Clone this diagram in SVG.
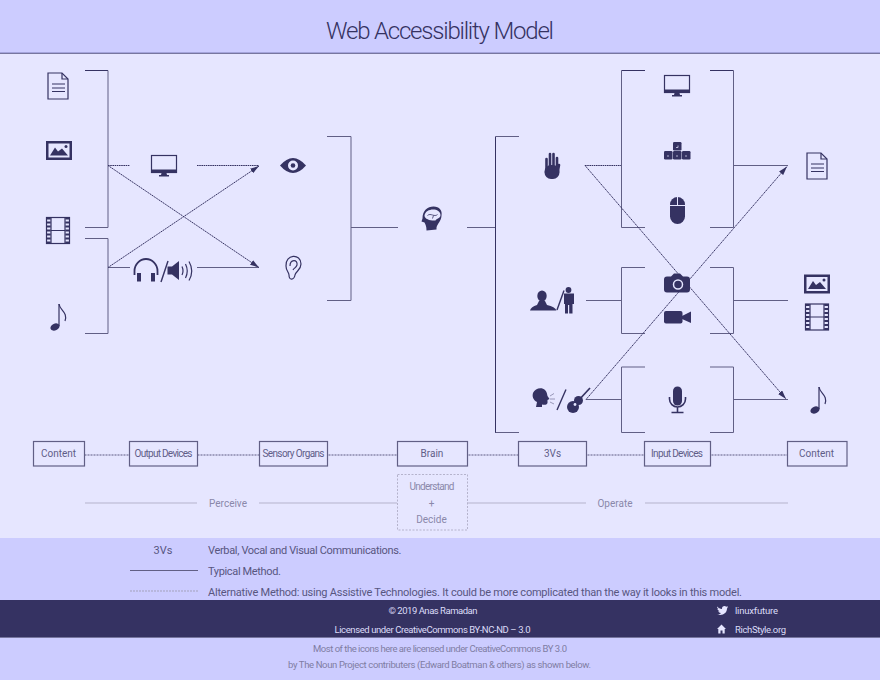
<svg xmlns="http://www.w3.org/2000/svg" xmlns:xlink="http://www.w3.org/1999/xlink" width="880" height="680" viewBox="0 0 880 680">
<style>
text{font-family:"Roboto","Liberation Sans",sans-serif;text-anchor:middle;fill:#5f5d88;font-size:10px}
.l{text-anchor:start}
.leg{font-size:11px;fill:#58567f}
.foot{font-size:9.5px;fill:#dcdcf8}
.credit{font-size:9.5px;fill:#7f7da3}
.soft{fill:#8a88aa}
.ln{fill:none;stroke:#615f85;stroke-width:1}
.dk{fill:none;stroke:#353262;stroke-width:1}
.dot{fill:none;stroke:#353262;stroke-width:1;stroke-dasharray:1.6 .6}
.dbl{fill:none;stroke:#5d5a82;stroke-width:1.2;stroke-dasharray:1 .5}
.pale{fill:none;stroke:#b5b3cc;stroke-width:1}
.box{fill:none;stroke:#615f85;stroke-width:1.2}
.i{fill:#353262}
.is{fill:none;stroke:#353262;stroke-width:1.2}
.h{fill:#e6e6ff}
.hs{fill:none;stroke:#e6e6ff}
</style>
<defs>
<marker id="a" viewBox="0 0 10 6" refX="10" refY="3" markerWidth="9" markerHeight="5.500" markerUnits="userSpaceOnUse" orient="auto"><path d="M0,0L10,3L0,6Z" fill="#353262"/></marker>
<g id="doc"><path class="is" d="M-10,-13H4L10,-7V13H-10Z"/><path class="is" stroke-width=".8" d="M4,-13V-7H10"/><path class="is" d="M-6,-2H7M-6,2H7M-6,5.500H7"/></g>
<g id="pic"><rect class="i" x="-13" y="-9.500" width="26" height="19"/><rect class="h" x="-10.500" y="-7" width="21" height="14"/><path class="i" d="M-9,5L-4,-3L-1,1L3,-2L9,5Z"/><circle class="i" cx="7" cy="-4" r="1.500"/></g>
<g id="film"><rect class="is" x="-11.500" y="-13" width="23" height="26"/><path class="is" d="M-7,-13V13M7,-13V13M-7,0H7"/><path fill="none" stroke="#353262" stroke-width="4" stroke-dasharray="2 2" d="M-9.300,-13V13M9.300,-13V13"/></g>
<g id="note"><ellipse class="i" cx="-3" cy="10" rx="4.800" ry="3.400" transform="rotate(-25 -3 10)"/><path class="is" d="M1,-13V9"/><path class="is" d="M1,-13C2,-6 10,-5 7,4"/></g>
<g id="mon"><rect class="is" x="-12.500" y="-10" width="25" height="17"/><rect class="i" x="-13" y="4" width="26" height="3.500"/><path class="i" d="M-2.500,7.500H2.500L3,9.500H5V11H-5V9.500H-3Z"/></g>
</defs>

<rect width="880" height="680" fill="#ccccff"/>
<rect y="54" width="880" height="484" fill="#e6e6ff"/>
<rect y="52" width="880" height="1" fill="#a4a4dc"/>
<rect y="53" width="880" height="1" fill="#77769f"/>
<rect y="600" width="880" height="37" fill="#353262"/>
<rect y="637" width="880" height="1" fill="#77769f"/>
<text id="title" x="440" y="39" style="font-size:24px;font-weight:300;fill:#353262" textLength="228">Web Accessibility Model</text>

<g id="connectors">
<path class="dk" d="M85,70.500H108"/>
<path class="ln" d="M108,70.500V227.500H85M85,238.500H108V333.500H85"/>
<path class="ln" d="M327,136.500H351V300.500H327M351,227.500H398M467,227.500H495.500"/>
<path class="dk" d="M495.500,136.500V433"/>
<path class="ln" d="M495.500,136.500H519M495.500,432.500H519"/>
<path class="dk" d="M621.500,70.500H645M710,70.500H733.500"/>
<path class="ln" d="M621.500,70.500V227.500H645M733.500,70.500V227.500H710"/>
<path class="ln" d="M645,267.500H621.500V333.500H645M710,267.500H733.500V333.500H710"/>
<path class="ln" d="M645,367H621.500V432.500H645M710,367H733.500V432.500H710"/>
<path class="dot" d="M108,165.500H130M197,165.500H259M585,165.500H621"/>
<path class="ln" d="M108,267.500H130M197,267.500H259M733,165.500H788M586,300.500H621M733,300.500H788M586,399.500H621M733,399.500H788"/>
<path class="dot" marker-end="url(#a)" d="M108,165.500L259,267.500"/>
<path class="dot" marker-end="url(#a)" d="M108,267.500L259,166"/>
<path class="dot" marker-end="url(#a)" d="M585,165.500L786,399"/>
<path class="dot" marker-end="url(#a)" d="M586,399.500L787,166.500"/>
<path class="dbl" d="M85,455H129M198,455H259M327.500,455H397M467.500,455H518M586.500,455H644M710.500,455H787"/>
<path class="pale" d="M85,503H197M259,503H397M467,503H586M645,503H788"/>
<path class="ln" d="M130,570.500H198"/>
<path fill="none" stroke="#a3a1bb" stroke-width="1" stroke-dasharray="2 1" d="M130,591H198"/>
</g>

<g id="content-text"><use xlink:href="#doc" href="#doc" x="58" y="86"/></g>
<g id="content-image"><use xlink:href="#pic" href="#pic" x="59" y="150.500"/></g>
<g id="content-video"><use xlink:href="#film" href="#film" x="58" y="230.500"/></g>
<g id="content-audio"><use xlink:href="#note" href="#note" x="58" y="317"/></g>
<g id="output-monitor"><use xlink:href="#mon" href="#mon" x="164" y="165.500"/></g>
<g id="output-audio">
<path fill="none" stroke="#353262" stroke-width="1.800" d="M134.500,275V271A11.500,12 0 0 1 157.500,271V275"/>
<rect class="i" x="137" y="273" width="4" height="8.500"/><rect class="i" x="151" y="273" width="4" height="8.500"/>
<path fill="none" stroke="#353262" stroke-width="1.400" d="M161,282L168,261"/>
<path class="i" d="M167.500,266.500H172L179,261V280L172,274.500H167.500Z"/>
<path fill="none" stroke="#353262" stroke-width="1.200" d="M182,266.500Q184,271 182,275M185.500,264Q189,271 185.500,278M189,261.500Q194.500,271 189,280.500"/>
</g>
<g id="sense-eye" transform="translate(293 165.500)"><path class="i" d="M-13,0Q0,-15 13,0Q0,15 -13,0Z"/><circle class="h" r="5"/><circle class="i" r="2.300"/></g>
<g id="sense-ear" transform="translate(293 268)"><path class="is" d="M-7,-2C-8,-14 8,-15 8,-4C8,2 3,3 2,7C1,12 -4,13 -4,7C-4,4 -7,3 -7,-2Z"/><path class="is" d="M-3,-2C-3,-9 5,-9 4,-3C3,0 1,0 0,2"/></g>
<g id="brain" transform="translate(431.500 218.500)"><path class="i" d="M-5,12C-5,8 -6,6 -7,4L-10,3L-9,0C-9,-8 -4,-12 2,-12C8,-12 11,-8 10,-3C10,2 6,5 5,9L5,11Z"/><path class="h" d="M-7,-3C-6,-11 9,-11 9,-3.500C9,0 5,0 4,2C0,2.500 -7,1 -7,-3Z"/><path fill="none" stroke="#353262" stroke-width=".8" d="M-4,-3C-1,-6 3,-1 6,-4M1,0L2,-3"/></g>
<g id="vs-visual" transform="translate(552 166)"><rect class="i" x="-7.500" y="-1" width="15" height="14" rx="6.500"/><path fill="none" stroke="#353262" stroke-width="2.600" stroke-linecap="round" d="M-5.500,4V-7M-2,2V-12M1.500,2V-12M5,3V-8M5.500,7L7,-1"/></g>
<g id="input-monitor"><use xlink:href="#mon" href="#mon" x="677" y="85.500"/></g>
<g id="input-keys" class="i"><rect x="673" y="142" width="8.500" height="8.500" rx="1.200"/><rect x="664" y="151" width="8.500" height="8.500" rx="1.200"/><rect x="673" y="151" width="8.500" height="8.500" rx="1.200"/><rect x="682" y="151" width="8.500" height="8.500" rx="1.200"/><path class="hs" stroke-width=".7" d="M676,147.500H678V145.500M667,156H669M676,156H678M685,156H687"/></g>
<g id="input-mouse" transform="translate(677.500 210.500)"><rect class="i" x="-7.500" y="-13.500" width="15" height="27" rx="7.500"/><path class="hs" stroke-width="1" d="M-7.500,-5H7.500M0,-13.500V-5"/></g>
<g id="vs-vocal">
<ellipse class="i" cx="542" cy="296" rx="4.700" ry="5.500"/><path class="i" d="M530,310.500Q531,306.500 537,305L539,301H545L547,305Q555,306.500 556.500,310.500Z"/>
<path fill="none" stroke="#353262" stroke-width="1.400" d="M557,310L564,290.500"/>
<circle class="i" cx="568.500" cy="290" r="2.900"/><path class="i" d="M564,293.500H574V304H572.500V313.500H569.200V305H568V313.500H565V304H564Z"/>
</g>
<g id="input-camera" transform="translate(677 283.500)"><path class="i" d="M-10,-7H-6L-3,-10H3L6,-7H10Q13,-7 13,-4V6Q13,9 10,9H-10Q-13,9 -13,6V-4Q-13,-7 -10,-7Z"/><circle cx="1" cy="1" r="4.500" fill="#353262" stroke="#e6e6ff" stroke-width="1.500"/></g>
<g id="input-video" class="i"><rect x="664" y="311" width="18.500" height="12.500" rx="2"/><path d="M682,316L691,311.500V323L682,319Z"/></g>
<g id="vs-verbal">
<path class="i" d="M536,407L537,402C533,400 532,396 533,393C535,388 542,387 545,390C547,392 547,394 547.500,396L549.500,399L547.500,400V403C547,405 544,405 542,404.500V407Z"/>
<path fill="none" stroke="#8f8db0" stroke-width=".9" d="M550,396L554,393.500M550,399H555M550,402L554,404"/>
<path fill="none" stroke="#353262" stroke-width="1.400" d="M557,410L566,389.500"/>
<circle class="i" cx="573" cy="407" r="6"/><circle class="i" cx="578.500" cy="400.500" r="4.500"/>
<path fill="none" stroke="#353262" stroke-width="1.700" d="M578,401L590,388"/>
<circle class="h" cx="575" cy="404.500" r="1.400"/>
</g>
<g id="input-mic" transform="translate(677.500 400)"><rect class="i" x="-4.500" y="-13.500" width="9" height="19" rx="4.500"/><path fill="none" stroke="#353262" stroke-width="1.600" d="M-8,-3V-1A8,8 0 0 0 8,-1V-3M0,7V12.500M-6,12.500H6"/></g>
<g id="goal-text"><use xlink:href="#doc" href="#doc" x="817" y="166"/></g>
<g id="goal-image"><use xlink:href="#pic" href="#pic" x="817" y="284"/></g>
<g id="goal-video"><use xlink:href="#film" href="#film" x="817" y="317"/></g>
<g id="goal-audio"><use xlink:href="#note" href="#note" x="818" y="400"/></g>

<g id="step-content-1"><rect class="box" x="33.500" y="441.500" width="51" height="24.500"/><text x="58.500" y="457">Content</text></g>
<g id="step-output"><rect class="box" x="129.500" y="441.500" width="68" height="24.500"/><text x="163.500" y="457" textLength="58">Output Devices</text></g>
<g id="step-organs"><rect class="box" x="259.500" y="441.500" width="68" height="24.500"/><text x="293.500" y="457" textLength="62">Sensory Organs</text></g>
<g id="step-brain"><rect class="box" x="397.500" y="441.500" width="70" height="24.500"/><text x="432" y="457">Brain</text></g>
<g id="step-3vs"><rect class="box" x="518.500" y="441.500" width="68" height="24.500"/><text x="552.500" y="457">3Vs</text></g>
<g id="step-input"><rect class="box" x="644.500" y="441.500" width="66" height="24.500"/><text x="677" y="457" textLength="52">Input Devices</text></g>
<g id="step-content-2"><rect class="box" x="787.500" y="441.500" width="59.500" height="24.500"/><text x="816.500" y="457">Content</text></g>
<g id="cognition"><rect x="397.500" y="474.500" width="70" height="55.500" fill="none" stroke="#b5b3cc" stroke-dasharray="2 1.500"/><text class="soft" x="432" y="489.500" textLength="45">Understand</text><text class="soft" x="431.500" y="506.500">+</text><text class="soft" x="431.500" y="522.500">Decide</text></g>
<text class="soft" x="228" y="506.500">Perceive</text>
<text class="soft" x="615" y="506.500">Operate</text>

<g id="legend">
<text class="leg" x="163" y="553.500">3Vs</text>
<text class="leg l" x="208" y="553.500" textLength="193.500">Verbal, Vocal and Visual Communications.</text>
<text class="leg l" x="208" y="574.500" textLength="73">Typical Method.</text>
<text class="leg l" x="208" y="595.500" textLength="534">Alternative Method: using Assistive Technologies. It could be more complicated than the way it looks in this model.</text>
</g>
<g id="footer">
<text class="foot" x="433" y="614" textLength="89">© 2019 Anas Ramadan</text>
<text class="foot" x="432.500" y="632.500" textLength="196">Licensed under CreativeCommons BY-NC-ND – 3.0</text>
<path class="h" d="M717,606.500C718.500,608 720,608.800 722,609C721.600,606.500 724.500,605 726.300,606.700L728,606L727,607.500L728.200,607.200L727,608.500C727,613 723,616 717,614.500C719,614.500 720,614 721,613C719,612.800 718.500,612 718.200,611.300L719.500,611.200C718,610.500 717.500,609.800 717.500,608.800L718.700,609.100C717.500,608.300 716.800,607.500 717,606.500Z"/>
<path class="h" d="M721.500,624.500L717,629H718.300V633.500H720.500V630.500H722.500V633.500H724.700V629H726Z"/>
<text class="foot l" x="735" y="614" textLength="43">linuxfuture</text>
<text class="foot l" x="735" y="632.500" textLength="51">RichStyle.org</text>
</g>
<g id="credits">
<text class="credit" x="440" y="651.500" textLength="254">Most of the icons here are licensed under CreativeCommons BY 3.0</text>
<text class="credit" x="439.500" y="667.500" textLength="303">by The Noun Project contributers (Edward Boatman &amp; others) as shown below.</text>
</g>
</svg>
